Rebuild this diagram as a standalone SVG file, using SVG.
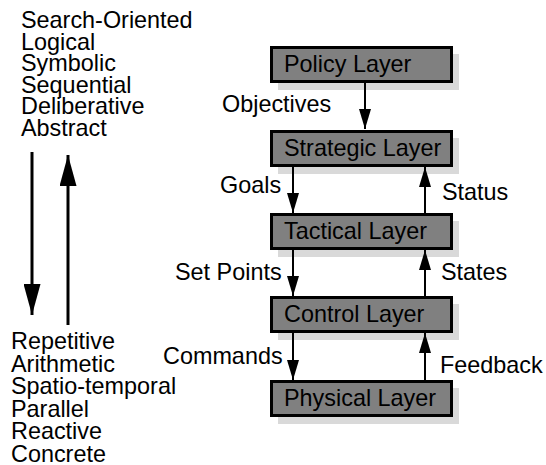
<svg xmlns="http://www.w3.org/2000/svg" width="546" height="465" viewBox="0 0 546 465">
<style>
text{font-family:"Liberation Sans",Arial,Helvetica,sans-serif;font-size:23.4px;fill:#000}
.shadow{fill:#d9d9d9}
.box{fill:#808080;stroke:#000;stroke-width:3}
.conn{stroke:#000;stroke-width:2;fill:none}
.big{stroke:#000;stroke-width:3;fill:none}
</style>
<defs>
<marker id="ah" markerUnits="userSpaceOnUse" markerWidth="20" markerHeight="12" refX="20" refY="6" orient="auto">
<path d="M0,0 L20,6 L0,12 z" fill="#000"/>
</marker>
<marker id="bigah" markerUnits="userSpaceOnUse" markerWidth="31" markerHeight="17" refX="31" refY="8.5" orient="auto">
<path d="M0,0 L31,8.5 L0,17 z" fill="#000"/>
</marker>
</defs>
<g id="abstract-list">
<text x="21" y="28">Search-Oriented</text>
<text x="21" y="49.5">Logical</text>
<text x="21" y="71">Symbolic</text>
<text x="21" y="92.5">Sequential</text>
<text x="21" y="114">Deliberative</text>
<text x="21" y="135.5">Abstract</text>
</g>
<g id="concrete-list">
<text x="11" y="349">Repetitive</text>
<text x="11" y="371.5">Arithmetic</text>
<text x="11" y="394">Spatio-temporal</text>
<text x="11" y="416.5">Parallel</text>
<text x="11" y="439">Reactive</text>
<text x="11" y="461.5">Concrete</text>
</g>
<g id="scale-arrows">
<line class="big" x1="32" y1="152" x2="32" y2="315" marker-end="url(#bigah)"/>
<line class="big" x1="68" y1="325" x2="68" y2="155" marker-end="url(#bigah)"/>
</g>
<g id="policy">
<rect class="shadow" x="278" y="54" width="181" height="36"/>
<rect class="box" x="271.5" y="47.5" width="180" height="34"/>
<text x="284" y="72">Policy Layer</text>
</g>
<g id="strategic">
<rect class="shadow" x="278" y="138" width="181" height="36"/>
<rect class="box" x="271.5" y="131.5" width="180" height="34"/>
<text x="284" y="155.5">Strategic Layer</text>
</g>
<g id="tactical">
<rect class="shadow" x="278" y="221" width="181" height="36"/>
<rect class="box" x="271.5" y="214.5" width="180" height="34"/>
<text x="284" y="239">Tactical Layer</text>
</g>
<g id="control">
<rect class="shadow" x="278" y="304" width="181" height="36"/>
<rect class="box" x="271.5" y="297.5" width="180" height="34"/>
<text x="284" y="322">Control Layer</text>
</g>
<g id="physical">
<rect class="shadow" x="278" y="388" width="181" height="36"/>
<rect class="box" x="271.5" y="381.5" width="180" height="34"/>
<text x="284" y="406">Physical Layer</text>
</g>
<g id="connectors">
<line class="conn" x1="365" y1="83" x2="365" y2="129" marker-end="url(#ah)"/>
<line class="conn" x1="293" y1="167" x2="293" y2="213" marker-end="url(#ah)"/>
<line class="conn" x1="425" y1="213" x2="425" y2="167" marker-end="url(#ah)"/>
<line class="conn" x1="293" y1="250" x2="293" y2="296" marker-end="url(#ah)"/>
<line class="conn" x1="425" y1="296" x2="425" y2="250" marker-end="url(#ah)"/>
<line class="conn" x1="293" y1="333" x2="293" y2="380" marker-end="url(#ah)"/>
<line class="conn" x1="425" y1="380" x2="425" y2="333" marker-end="url(#ah)"/>
</g>
<g id="labels">
<text x="222" y="112">Objectives</text>
<text x="220" y="193">Goals</text>
<text x="442" y="200">Status</text>
<text x="175" y="280">Set Points</text>
<text x="441" y="280">States</text>
<text x="163" y="364">Commands</text>
<text x="440" y="373">Feedback</text>
</g>
</svg>
